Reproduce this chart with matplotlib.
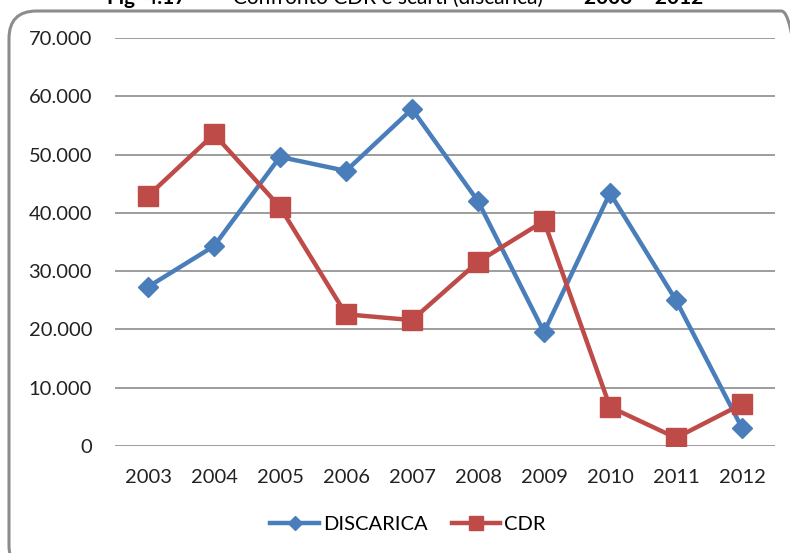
import matplotlib
import matplotlib.pyplot as plt
from matplotlib.patches import FancyBboxPatch
from matplotlib.ticker import FuncFormatter

matplotlib.use('Agg')

years = ['2003', '2004', '2005', '2006', '2007', '2008', '2009', '2010', '2011', '2012']
discarica = [27300, 34300, 49600, 47200, 57800, 42000, 19550, 43400, 25000, 3100]
cdr = [42900, 53500, 41000, 22600, 21600, 31600, 38600, 6700, 1400, 7200]

W, H = 790, 553
plt.rcParams['font.family'] = ['Lato', 'DejaVu Sans']

fig = plt.figure(figsize=(W / 100, H / 100), dpi=100)

# rounded chart border (partly cut by the image edge)
border = FancyBboxPatch((9 / W, -20 / H), 800 / W, (H - 11 + 20) / H,
                        boxstyle='round,pad=0,rounding_size=0.035',
                        transform=fig.transFigure, fill=False,
                        edgecolor='#8c8c8c', linewidth=2.2, mutation_aspect=W / H)
fig.patches.append(border)

# title, cut off at the top edge like in the original
ty = 1 - 4 / H
fig.text(107 / W, ty, 'Fig  4.17', fontsize=15, fontweight='bold', va='baseline')
fig.text(210 / W, ty, '–  Confronto CDR e scarti (discarica)   –', fontsize=15, va='baseline')
fig.text(584 / W, ty, '2003 – 2012', fontsize=15, fontweight='bold', va='baseline')

ax = fig.add_axes([115 / W, 1 - 446 / H, 660 / W, 408 / H])
x = list(range(len(years)))
ax.plot(x, discarica, color='#4A7EBB', lw=3.2, marker='D', markersize=10,
        label='DISCARICA', zorder=3)
ax.plot(x, cdr, color='#BE4B48', lw=3.2, marker='s', markersize=14,
        label='CDR', zorder=3)

ax.set_xlim(-0.5, len(years) - 0.5)
ax.set_ylim(0, 70000)
ax.set_yticks(range(0, 70001, 10000))
ax.yaxis.set_major_formatter(FuncFormatter(lambda v, p: f'{int(v):,}'.replace(',', '.')))
ax.set_xticks(x)
ax.set_xticklabels(years)
ax.grid(axis='y', color='#8c8c8c', lw=1.2)
ax.set_axisbelow(True)
for s in ax.spines.values():
    s.set_visible(False)
ax.tick_params(length=0, labelsize=14.5, colors='#222222')
ax.tick_params(axis='y', pad=16.5)
ax.tick_params(axis='x', pad=16.5)

ax.legend(loc='center', bbox_to_anchor=(408 / W, 1 - 524 / H), bbox_transform=fig.transFigure,
          ncol=2, frameon=False, fontsize=14.5, handlelength=2.4, handletextpad=0.2,
          columnspacing=1.2, markerscale=0.7)

fig.savefig('out.png', dpi=100)
